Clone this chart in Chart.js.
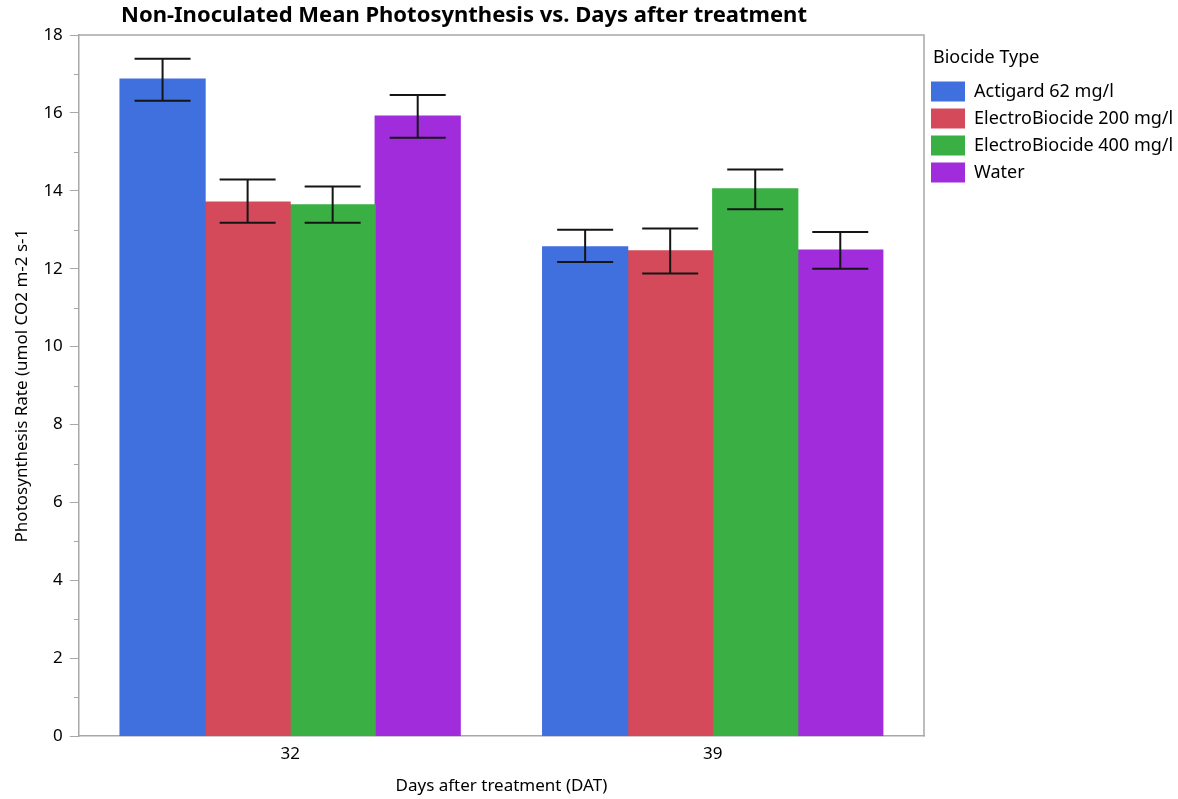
<!DOCTYPE html>
<html>
<head>
<meta charset="utf-8">
<script src="https://cdn.jsdelivr.net/npm/chart.js@4.4.1/dist/chart.umd.min.js"></script>
<style>
  html, body { margin: 0; padding: 0; background: #fff; }
  #wrap { width: 1178px; height: 799px; position: relative; }
</style>
</head>
<body>
<div id="wrap"><canvas id="chart"></canvas></div>
<script>
// categories (days after treatment)
const days = ['32', '39'];

// series names and colours
const seriesNames = ['Actigard 62 mg/l', 'ElectroBiocide 200 mg/l', 'ElectroBiocide 400 mg/l', 'Water'];
const seriesColors = ['#4070dd', '#d44a5a', '#3ab044', '#a02cdc'];

// mean values
const actigard = [16.87, 12.56];
const electro200 = [13.71, 12.46];
const electro400 = [13.64, 14.05];
const water = [15.92, 12.48];

// error bar ends (low / high)
const actigardLow = [16.31, 12.17];
const actigardHigh = [17.39, 13.00];
const electro200Low = [13.18, 11.88];
const electro200High = [14.29, 13.03];
const electro400Low = [13.18, 13.53];
const electro400High = [14.11, 14.55];
const waterLow = [15.36, 12.00];
const waterHigh = [16.46, 12.94];

const yMin = 0, yMax = 18, yStep = 2;

const FONT = '"Noto Sans", "Open Sans", sans-serif';

const seriesValues = [actigard, electro200, electro400, water];
const seriesLow = [actigardLow, electro200Low, electro400Low, waterLow];
const seriesHigh = [actigardHigh, electro200High, electro400High, waterHigh];

const datasets = seriesNames.map((name, i) => ({
    label: name,
    data: seriesValues[i],
    errLow: seriesLow[i],
    errHigh: seriesHigh[i],
    backgroundColor: seriesColors[i],
    borderWidth: 0,
    inflateAmount: 0.6,
    barPercentage: 1,
    categoryPercentage: 0.805,
}));

// error bars drawn from the y scale
const errorBars = {
    id: 'errorBars',
    afterDatasetsDraw(chart) {
        const ctx = chart.ctx;
        const y = chart.scales.y;
        ctx.save();
        ctx.strokeStyle = '#151515';
        ctx.lineWidth = 2;
        chart.data.datasets.forEach((ds, di) => {
            const meta = chart.getDatasetMeta(di);
            meta.data.forEach((bar, j) => {
                const yl = y.getPixelForValue(ds.errLow[j]);
                const yh = y.getPixelForValue(ds.errHigh[j]);
                const half = 28;
                ctx.beginPath();
                ctx.moveTo(bar.x, yl); ctx.lineTo(bar.x, yh);
                ctx.moveTo(bar.x - half, yl); ctx.lineTo(bar.x + half, yl);
                ctx.moveTo(bar.x - half, yh); ctx.lineTo(bar.x + half, yh);
                ctx.stroke();
            });
        });
        ctx.restore();
    }
};

// frame around the plot, minor ticks, title and legend heading
const frame = {
    id: 'frame',
    afterDraw(chart) {
        const ctx = chart.ctx;
        const a = chart.chartArea;
        const y = chart.scales.y;
        ctx.save();
        ctx.strokeStyle = '#a8a8a8';
        ctx.lineWidth = 1.5;
        ctx.beginPath();
        ctx.moveTo(a.left, a.top); ctx.lineTo(a.right, a.top); ctx.lineTo(a.right, a.bottom);
        ctx.stroke();
        ctx.lineWidth = 1;
        for (let v = yMin + 1; v < yMax; v += 2) {
            const py = Math.round(y.getPixelForValue(v)) + 0.5;
            ctx.beginPath();
            ctx.moveTo(a.left - 5, py); ctx.lineTo(a.left, py);
            ctx.stroke();
        }
        ctx.fillStyle = '#000';
        ctx.font = 'bold 22px ' + FONT;
        ctx.textAlign = 'center';
        ctx.textBaseline = 'middle';
        ctx.fillText('Non-Inoculated Mean Photosynthesis vs. Days after treatment', 464, 16);
        ctx.font = '18px ' + FONT;
        ctx.textAlign = 'left';
        ctx.fillText('Biocide Type', 933, 58);
        ctx.restore();
    }
};

new Chart(document.getElementById('chart'), {
    type: 'bar',
    data: { labels: days, datasets },
    options: {
        responsive: true,
        maintainAspectRatio: false,
        animation: false,
        layout: { padding: { top: 35, left: 12, right: 0, bottom: 3 } },
        plugins: {
            tooltip: { enabled: false },
            legend: {
                position: 'right',
                align: 'start',
                maxWidth: 254,
                title: {
                    // spacing only; the heading itself is drawn by the frame plugin
                    display: true,
                    text: 'Biocide Type',
                    color: 'rgba(0,0,0,0)',
                    font: { family: FONT, size: 18 },
                    padding: { top: 13, bottom: 5 },
                },
                labels: {
                    color: '#000',
                    font: { family: FONT, size: 18 },
                    boxWidth: 34,
                    boxHeight: 20,
                    padding: 7,
                },
            },
        },
        scales: {
            x: {
                grid: { display: false },
                border: { display: true, color: '#a8a8a8', width: 1.5 },
                ticks: { color: '#000', font: { family: FONT, size: 17 }, padding: 0 },
                title: {
                    display: true,
                    text: 'Days after treatment (DAT)',
                    color: '#000',
                    font: { family: FONT, size: 17 },
                    padding: { top: 11, bottom: 0 },
                },
            },
            y: {
                min: yMin,
                max: yMax,
                grid: { display: true, drawOnChartArea: false, tickLength: 9, color: '#a8a8a8' },
                border: { display: true, color: '#a8a8a8', width: 1.5 },
                ticks: { stepSize: yStep, color: '#000', font: { family: FONT, size: 17 }, padding: 7 },
                title: {
                    display: true,
                    text: 'Photosynthesis Rate (umol CO2 m-2 s-1',
                    color: '#000',
                    font: { family: FONT, size: 17 },
                    padding: { top: 0, bottom: 4 },
                },
            },
        },
    },
    plugins: [errorBars, frame],
});
</script>
</body>
</html>
